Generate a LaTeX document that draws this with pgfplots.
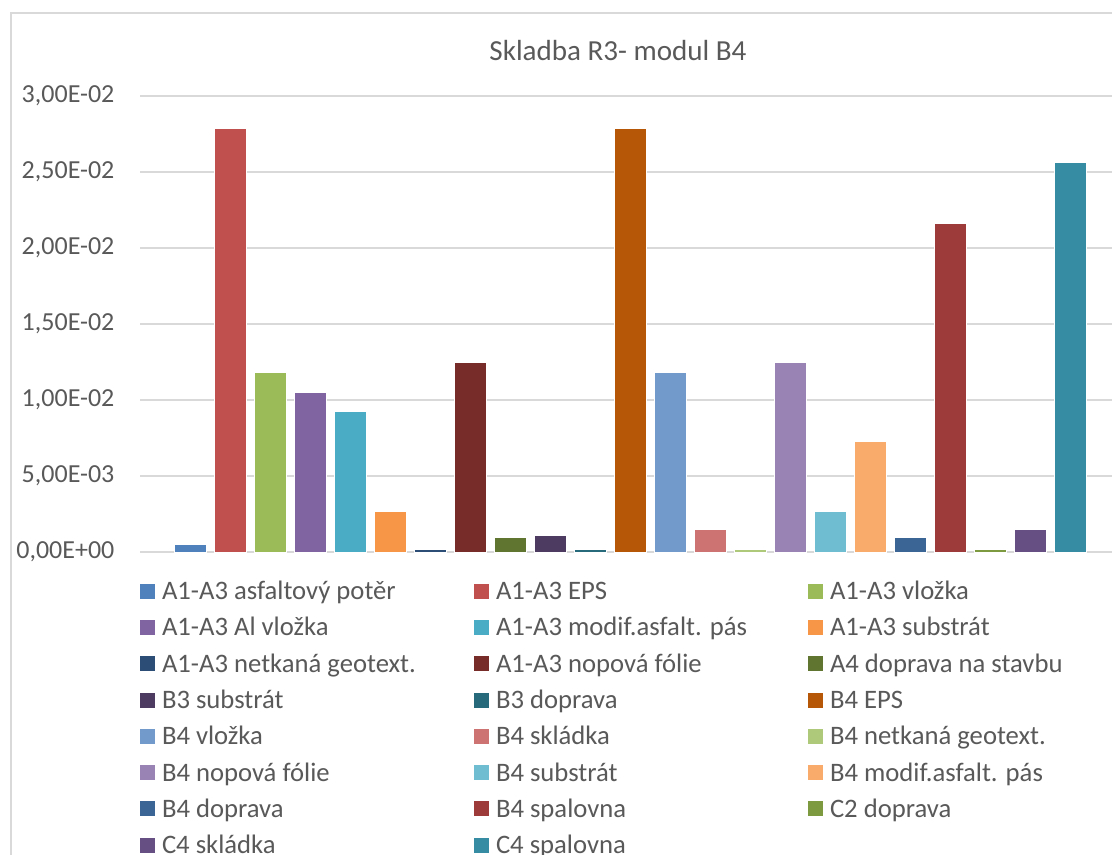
\documentclass[border=0pt]{standalone}
\usepackage{fontspec}
\setmainfont{Carlito}
\usepackage{pgfplots}
\pgfplotsset{compat=1.18}
\definecolor{txt}{HTML}{595959}
\definecolor{grd}{HTML}{D9D9D9}
\definecolor{c1}{HTML}{4F81BD}
\definecolor{c2}{HTML}{C0504D}
\definecolor{c3}{HTML}{9BBB59}
\definecolor{c4}{HTML}{8064A2}
\definecolor{c5}{HTML}{4BACC6}
\definecolor{c6}{HTML}{F79646}
\definecolor{c7}{HTML}{2C4D75}
\definecolor{c8}{HTML}{772C2A}
\definecolor{c9}{HTML}{5F7530}
\definecolor{c10}{HTML}{4D3B62}
\definecolor{c11}{HTML}{276A7C}
\definecolor{c12}{HTML}{B65708}
\definecolor{c13}{HTML}{729ACA}
\definecolor{c14}{HTML}{CD7371}
\definecolor{c15}{HTML}{AFC97A}
\definecolor{c16}{HTML}{9983B5}
\definecolor{c17}{HTML}{6FBDD1}
\definecolor{c18}{HTML}{F9AB6B}
\definecolor{c19}{HTML}{3A6595}
\definecolor{c20}{HTML}{9C3B39}
\definecolor{c21}{HTML}{7E9A41}
\definecolor{c22}{HTML}{664F82}
\definecolor{c23}{HTML}{358CA3}
% legend text cells get a fixed width so the three columns line up
\newcommand{\lent}[1]{\makebox[234pt][l]{#1}}
\begin{document}
\fontsize{19.5}{23}\selectfont
\begin{tikzpicture}
\path[use as bounding box] (0,0) rectangle (834pt,-640.5pt);
\draw[grd, line width=1pt] (8.25pt,-700pt) -- (8.25pt,-9.75pt) -- (900pt,-9.75pt);
\node[anchor=base, text=txt, inner sep=0pt, font=\fontsize{21.8}{26}\selectfont] at (463.5pt,-45pt) {Skladba R3- modul B4};
\begin{axis}[
    at={(105pt,-414pt)}, anchor=south west,
    scale only axis,
    width=735pt, height=342pt,
    xmin=-1.25, xmax=23.25,
    ymin=0, ymax=0.03,
    ybar, bar width=24pt,
    xtick=\empty,
    ytick={0,0.005,0.01,0.015,0.02,0.025,0.03},
    yticklabels={{0,00E+00},{5,00E-03},{1,00E-02},{1,50E-02},{2,00E-02},{2,50E-02},{3,00E-02}},
    scaled y ticks=false,
    ymajorgrids,
    grid style={grd, line width=1.1pt},
    axis line style={draw=none},
    tick style={draw=none},
    yticklabel style={text=txt, font=\fontsize{19.5}{23}\selectfont, inner sep=0pt, anchor=east, xshift=-19pt},
    legend columns=3,
    legend style={at={(rel axis cs:0,0)}, anchor=north west, yshift=-21.75pt,
        draw=none, inner sep=0pt, outer sep=0pt, row sep=9.2pt, column sep=0pt,
        font=\fontsize{20}{23}\selectfont, text=txt,
        nodes={inner sep=0pt, text height=14pt, text depth=4pt},
        /tikz/every odd column/.append style={column sep=5.25pt}},
    legend cell align=left,
    legend image code/.code={\fill[#1, draw=none] (0pt,-4.3pt) rectangle (11.25pt,6.95pt);},
    bb/.style={fill=#1, draw=white, line width=0.25pt, bar shift=0pt},
]
\addplot[bb=c1]  coordinates {(0,0.00052)};
\addplot[bb=c2]  coordinates {(1,0.0279)};
\addplot[bb=c3]  coordinates {(2,0.01186)};
\addplot[bb=c4]  coordinates {(3,0.01052)};
\addplot[bb=c5]  coordinates {(4,0.00925)};
\addplot[bb=c6]  coordinates {(5,0.00272)};
\addplot[bb=c7]  coordinates {(6,0.00017)};
\addplot[bb=c8]  coordinates {(7,0.01252)};
\addplot[bb=c9]  coordinates {(8,0.001)};
\addplot[bb=c10] coordinates {(9,0.00108)};
\addplot[bb=c11] coordinates {(10,0.00017)};
\addplot[bb=c12] coordinates {(11,0.0279)};
\addplot[bb=c13] coordinates {(12,0.01186)};
\addplot[bb=c14] coordinates {(13,0.00152)};
\addplot[bb=c15] coordinates {(14,0.00017)};
\addplot[bb=c16] coordinates {(15,0.01252)};
\addplot[bb=c17] coordinates {(16,0.00272)};
\addplot[bb=c18] coordinates {(17,0.00726)};
\addplot[bb=c19] coordinates {(18,0.00095)};
\addplot[bb=c20] coordinates {(19,0.02162)};
\addplot[bb=c21] coordinates {(20,0.00022)};
\addplot[bb=c22] coordinates {(21,0.00152)};
\addplot[bb=c23] coordinates {(22,0.02568)};
\legend{\lent{A1-A3 asfaltový potěr},\lent{A1-A3 EPS},\lent{A1-A3 vložka},
  \lent{A1-A3 Al vložka},\lent{A1-A3 modif.asfalt. pás},\lent{A1-A3 substrát},
  \lent{A1-A3 netkaná geotext.},\lent{A1-A3 nopová fólie},\lent{A4 doprava na stavbu},
  \lent{B3 substrát},\lent{B3 doprava},\lent{B4 EPS},
  \lent{B4 vložka},\lent{B4 skládka},\lent{B4 netkaná geotext.},
  \lent{B4 nopová fólie},\lent{B4 substrát},\lent{B4 modif.asfalt. pás},
  \lent{B4 doprava},\lent{B4 spalovna},\lent{C2 doprava},
  \lent{C4 skládka},\lent{C4 spalovna}}
\end{axis}
\end{tikzpicture}
\end{document}
